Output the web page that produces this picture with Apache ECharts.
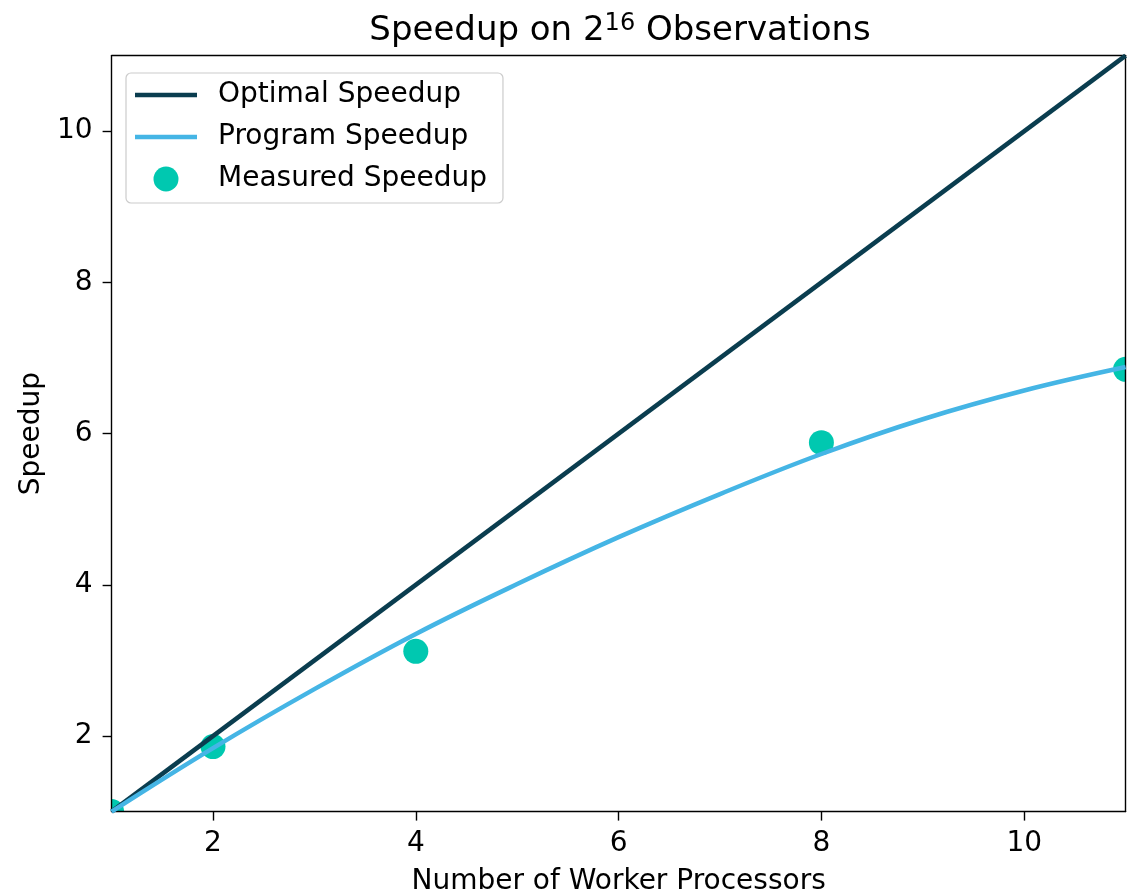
<!DOCTYPE html>
<html>
<head>
<meta charset="utf-8">
<script src="https://cdn.jsdelivr.net/npm/echarts@6/dist/echarts.min.js"></script>
<style>
html,body{margin:0;padding:0;background:#fff;}
#chart{width:1141px;height:895px;}
</style>
</head>
<body>
<div id="chart"></div>
<script>
// ---- data ----
const tickValues = [2, 4, 6, 8, 10];
const optimalX = [1, 11];
const optimalY = [1, 11];
const programX = [1, 2, 3, 4, 5, 6, 7, 8, 9, 10, 11];
const programY = [1.0, 1.84, 2.62, 3.35, 4.01, 4.63, 5.20, 5.73, 6.19, 6.57, 6.88];
const measuredX = [1, 2, 4, 8, 11];
const measuredY = [1.0, 1.86, 3.12, 5.88, 6.85];

const FONT = 'DejaVu Sans';
const cOpt = '#0a3d4f';
const cProg = '#45b5e5';
const cMeas = '#00c8b0';

const zip = (xs, ys) => xs.map((x, i) => [x, ys[i]]);

const chart = echarts.init(document.getElementById('chart'), null, {renderer: 'canvas'});

const baseAxis = {
  type: 'value', min: 1, max: 11, z: 3,
  splitLine: {show: false},
  axisLine: {show: true, onZero: false, lineStyle: {color: '#000', width: 1.4}}
};

const lineIcon = 'path://M0,0H124V9H0Z';

chart.setOption({
  animation: false,
  backgroundColor: '#fff',
  textStyle: {fontFamily: FONT},
  title: {
    text: 'Speedup on 2{sup|16} Observations',
    left: 615, top: 7, textAlign: 'center',
    textStyle: {
      fontFamily: FONT, fontSize: 34, fontWeight: 'normal', color: '#000',
      rich: {sup: {fontFamily: FONT, fontSize: 24, color: '#000', verticalAlign: 'top', padding: [0, 0, 15, 0]}}
    }
  },
  grid: {left: 111.6, right: 15.4, top: 55.6, bottom: 83.4, containLabel: false, outerBoundsMode: 'none'},
  legend: {
    orient: 'vertical', left: 126, top: 73,
    itemWidth: 62, itemHeight: 25, itemGap: 14,
    padding: [8, 16, 10, 9],
    symbolKeepAspect: true,
    backgroundColor: 'rgba(255,255,255,0.8)',
    borderColor: '#cccccc', borderWidth: 1.2, borderRadius: 5,
    textStyle: {fontFamily: FONT, fontSize: 28, color: '#000', padding: [0, 0, 0, 16]},
    data: [
      {name: 'Optimal Speedup', icon: lineIcon, itemStyle: {color: cOpt, borderWidth: 0}},
      {name: 'Program Speedup', icon: lineIcon, itemStyle: {color: cProg, borderWidth: 0}},
      {name: 'Measured Speedup', icon: 'circle', itemStyle: {color: cMeas, borderWidth: 0}}
    ]
  },
  xAxis: [
    Object.assign({}, baseAxis, {
      position: 'bottom',
      name: 'Number of Worker Processors', nameLocation: 'middle', nameGap: 56,
      nameTextStyle: {fontFamily: FONT, fontSize: 28, color: '#000'},
      axisTick: {show: true, length: 9, lineStyle: {color: '#000', width: 1.4}, customValues: tickValues},
      axisLabel: {show: true, margin: 18, fontFamily: FONT, fontSize: 28, color: '#000', customValues: tickValues}
    }),
    Object.assign({}, baseAxis, {position: 'top', axisTick: {show: false}, axisLabel: {show: false}})
  ],
  yAxis: [
    Object.assign({}, baseAxis, {
      position: 'left',
      name: 'Speedup', nameLocation: 'middle', nameGap: 63, nameRotate: 90,
      nameTextStyle: {fontFamily: FONT, fontSize: 28, color: '#000'},
      axisTick: {show: true, length: 9, lineStyle: {color: '#000', width: 1.4}, customValues: tickValues},
      axisLabel: {show: true, margin: 19, fontFamily: FONT, fontSize: 28, color: '#000', customValues: tickValues}
    }),
    Object.assign({}, baseAxis, {position: 'right', axisTick: {show: false}, axisLabel: {show: false}})
  ],
  series: [
    {
      name: 'Optimal Speedup', type: 'line', xAxisIndex: 0, yAxisIndex: 0,
      data: zip(optimalX, optimalY), symbol: 'none', clip: true,
      lineStyle: {color: cOpt, width: 4.5}, itemStyle: {color: cOpt}
    },
    {
      name: 'Program Speedup', type: 'line', xAxisIndex: 0, yAxisIndex: 0,
      data: zip(programX, programY), symbol: 'none', smooth: 0.4, clip: true,
      lineStyle: {color: cProg, width: 4.5}, itemStyle: {color: cProg}
    },
    {
      name: 'Measured Speedup', type: 'custom', xAxisIndex: 0, yAxisIndex: 0,
      data: zip(measuredX, measuredY), clip: true,
      itemStyle: {color: cMeas},
      encode: {x: 0, y: 1},
      renderItem: function (params, api) {
        const p = api.coord([api.value(0), api.value(1)]);
        return {type: 'circle', shape: {cx: p[0], cy: p[1], r: 12.5}, style: {fill: cMeas}};
      }
    }
  ]
});
</script>
</body>
</html>
